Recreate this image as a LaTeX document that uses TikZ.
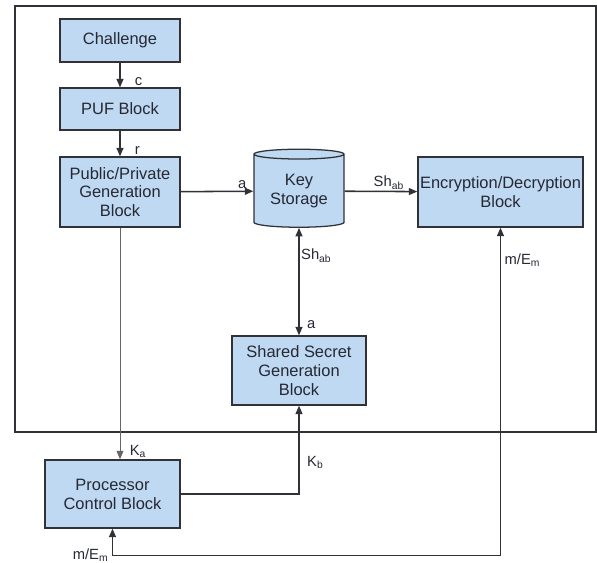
\documentclass[tikz,border=0pt]{standalone}
\usepackage{fontspec}
\setmainfont{Liberation Sans}
\usetikzlibrary{shapes.geometric,arrows.meta,calc}
\definecolor{blkfill}{RGB}{190,217,241}
\definecolor{blkline}{RGB}{48,50,56}
\definecolor{txtc}{RGB}{38,40,52}

\begin{document}
\begin{tikzpicture}[
  x=0.025cm, y=-0.025cm,
  font=\fontsize{11.7}{13.4}\selectfont, text=txtc,
  box/.style   = {rectangle, draw=blkline, fill=blkfill, line width=0.9pt,
                  align=center, inner sep=1pt},
  store/.style = {cylinder, shape border rotate=90, aspect=0.17, draw=blkline,
                  fill=blkfill, line width=0.9pt, align=center, inner sep=0pt,
                  minimum width=22.5mm, minimum height=19.5mm},
  fl/.style    = {-{Triangle[length=2.1mm,width=1.7mm]}, draw=blkline, line width=1.1pt},
  fltwo/.style = {{Triangle[length=2.1mm,width=1.7mm]}-{Triangle[length=2.1mm,width=1.7mm]},
                  draw=blkline, line width=1.1pt},
  lite/.style  = {-{Triangle[length=2.1mm,width=1.7mm]}, draw=black!60, line width=0.6pt},
  lab/.style   = {font=\fontsize{10.5}{12}\selectfont, inner sep=1pt}
]
\useasboundingbox (0,0) rectangle (597,563);

% device boundary
\draw[draw=blkline, line width=1.1pt] (15,6) rectangle (596,432);

% blocks
\node[box, minimum width=30mm, minimum height=10.75mm] (chal) at (120,40.5) {Challenge};
\node[box, minimum width=30mm, minimum height=10.5mm] (puf) at (120,109) {PUF Block};
\node[box, minimum width=30mm, minimum height=17.5mm] (pubpriv) at (120,192)
     {Public/Private\\Generation\\Block};
\node[store] (keys) at (299,191) {Key\\Storage};
\node[box, minimum width=41.25mm, minimum height=17.5mm] (encdec) at (500.5,192)
     {Encryption/Decryption\\Block};
\node[box, minimum width=33.5mm, minimum height=17.25mm] (shared) at (299,370.5)
     {Shared Secret\\Generation\\Block};
\node[box, minimum width=33.75mm, minimum height=17mm] (proc) at (112.5,494)
     {Processor\\Control Block};

\coordinate (mloop) at ($(proc.south)+(0,27)$);

% flows
\draw[fl] (chal) -- (puf) node[lab, pos=1, anchor=south west, xshift=3.2mm]{c};
\draw[fl] (puf) -- (pubpriv) node[lab, pos=1, anchor=south west, xshift=3.2mm]{r};
\draw[fl] (pubpriv) -- (keys) node[lab, pos=1, anchor=south east, xshift=-1.2mm]{a};
\draw[fl] (keys) -- (encdec) node[lab, pos=1, anchor=south east, xshift=-2.8mm]{Sh\textsubscript{ab}};
\draw[fltwo] (keys) -- (shared)
     node[lab, pos=0.26, anchor=west]{Sh\textsubscript{ab}}
     node[lab, pos=0.9, anchor=west, xshift=1.5mm]{a};
\draw[lite] (pubpriv.south) -- (pubpriv.south |- proc.north)
     node[lab, pos=1, anchor=south west, xshift=2mm]{K\textsubscript{a}};
\draw[fl] (proc.east) -| (shared.south) node[lab, pos=0.68, anchor=west, xshift=1.5mm]{K\textsubscript{b}};
\draw[fltwo] (encdec.south) |- (mloop) node[lab, pos=0.05, anchor=west, xshift=0.5mm]{m/E\textsubscript{m}}
     node[lab, anchor=east, xshift=-0.5mm, yshift=0.2mm]{m/E\textsubscript{m}} -- (proc.south);

\end{tikzpicture}
\end{document}
